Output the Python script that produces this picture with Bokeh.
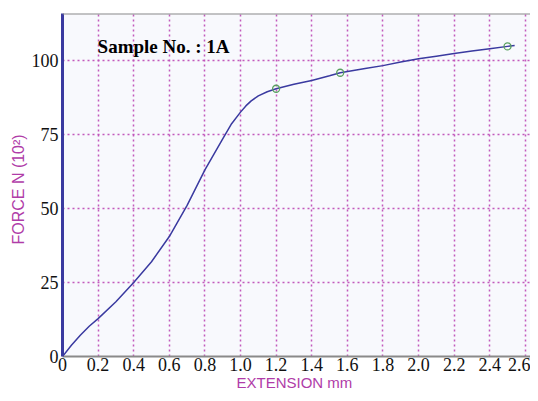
import math
from bokeh.plotting import figure
from bokeh.models import Label, Span, FixedTicker, Range1d
from bokeh.embed import file_html
from bokeh.resources import INLINE

# ---- data ----
extension = [0, 0.05, 0.1, 0.15, 0.2, 0.3, 0.4, 0.5, 0.6, 0.7, 0.8, 0.9, 0.95, 1.0,
             1.03, 1.06, 1.1, 1.15, 1.2, 1.3, 1.4, 1.5, 1.56, 1.7, 1.8, 1.9, 2.0,
             2.1, 2.2, 2.3, 2.4, 2.5, 2.54]
force = [0, 3.8, 7.2, 10.2, 12.8, 18.5, 25, 32, 40.5, 51, 63, 73.5, 78.6, 82.5,
         84.6, 86.3, 88.0, 89.4, 90.4, 91.9, 93.2, 94.8, 95.8, 97.2, 98.2, 99.4,
         100.5, 101.4, 102.3, 103.1, 103.9, 104.7, 105]
marker_x = [1.2, 1.56, 2.5]
marker_y = [90.4, 95.8, 104.7]

x_ticks = [0, 0.2, 0.4, 0.6, 0.8, 1.0, 1.2, 1.4, 1.6, 1.8, 2.0, 2.2, 2.4, 2.6]
x_tick_labels = ["0", "0.2", "0.4", "0.6", "0.8", "1.0", "1.2", "1.4", "1.6",
                 "1.8", "2.0", "2.2", "2.4", "2.6"]
y_ticks = [0, 25, 50, 75, 100]

sample_text = "Sample No. : 1A"
x_title = "EXTENSION  mm"
y_title = "FORCE  N  (10\u00b2)"

MAGENTA = "#b03ca8"
GRID = "#c050b8"
NAVY = "#3a3aa0"

Y_END = 115.8

p = figure(width=530, height=393, output_backend="svg", toolbar_location=None,
           x_range=Range1d(0, 2.629), y_range=Range1d(0, Y_END),
           min_border_left=62, min_border_right=0, min_border_top=13,
           min_border_bottom=36)
p.background_fill_color = "#f8f9fd"
p.border_fill_color = "white"
p.outline_line_color = None

# grids
p.xgrid.ticker = FixedTicker(ticks=x_ticks)
p.ygrid.ticker = FixedTicker(ticks=y_ticks)
for g in (p.xgrid, p.ygrid):
    g.grid_line_color = GRID
    g.grid_line_dash = "2 3"
    g.grid_line_width = 1.5
    g.grid_line_alpha = 0.95

# axes
xa = p.xaxis[0]
xa.ticker = FixedTicker(ticks=x_ticks)
xa.major_label_overrides = {t: l for t, l in zip(x_ticks, x_tick_labels)}
ya = p.yaxis[0]
ya.ticker = FixedTicker(ticks=y_ticks)
for ax in (xa, ya):
    ax.major_tick_in = 0
    ax.major_tick_out = 0
    ax.minor_tick_in = 0
    ax.minor_tick_out = 0
    ax.major_label_text_font = "Liberation Serif"
    ax.major_label_text_font_size = "18px"
    ax.major_label_text_color = "#111111"
    ax.axis_label_text_font = "Liberation Sans"
    ax.axis_label_text_font_style = "normal"
    ax.axis_label_text_color = MAGENTA
xa.axis_line_color = "#8a8a8a"
xa.axis_line_width = 2
xa.major_label_standoff = 1
xa.axis_label = x_title
xa.axis_label_text_font_size = "15px"
xa.axis_label_standoff = 0
ya.axis_line_color = NAVY
ya.axis_line_width = 3
ya.major_label_standoff = 4
ya.axis_label = y_title
ya.axis_label_text_font_size = "16px"
ya.axis_label_standoff = 2

# top border
p.add_layout(Span(location=Y_END, dimension="width", line_color="#8a8a8a", line_width=2))

# curve
p.line(extension, force, line_color=NAVY, line_width=1.5)
p.scatter(marker_x, marker_y, marker="circle", size=7, fill_color=None,
          line_color="#5aa060", line_width=1.3)

# texts
p.add_layout(Label(x=0.197, y=104.6, text=sample_text, text_font="Liberation Serif",
                   text_font_style="bold", text_font_size="19px", text_color="black",
                   text_baseline="middle", text_align="left"))

open("out.html", "w").write(file_html(p, INLINE))
